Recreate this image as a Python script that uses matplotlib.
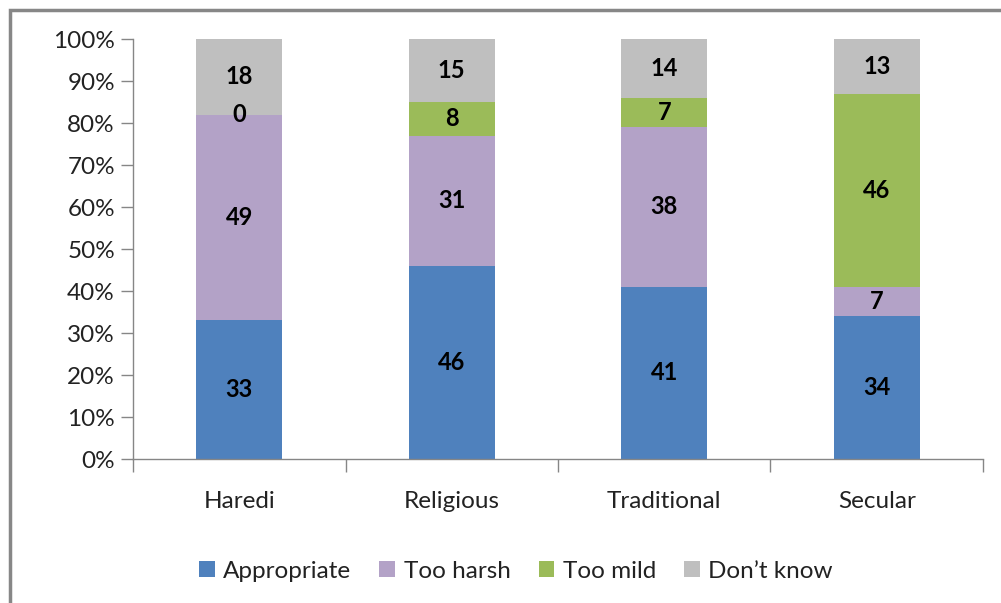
import matplotlib
matplotlib.use("Agg")
import matplotlib.pyplot as plt
from matplotlib.patches import Rectangle
import numpy as np

categories = ["Haredi", "Religious", "Traditional", "Secular"]
series_names = ["Appropriate", "Too harsh", "Too mild", "Don\u2019t know"]
appropriate = [33, 46, 41, 34]
too_harsh = [49, 31, 38, 7]
too_mild = [0, 8, 7, 46]
dont_know = [18, 15, 14, 13]
y_ticks = [0, 10, 20, 30, 40, 50, 60, 70, 80, 90, 100]

colors = ["#4F81BD", "#B3A2C7", "#9BBB59", "#BFBFBF"]

plt.rcParams['font.family'] = ['Lato', 'DejaVu Sans']

fig = plt.figure(figsize=(10.01, 6.03), dpi=100)
ax = fig.add_axes([133/1001, 1-459/603, (983-133)/1001, (459-39)/603])

x = np.arange(len(categories))
data = [appropriate, too_harsh, too_mild, dont_know]
bottom = np.zeros(len(categories))
handles = []
for vals, col, name in zip(data, colors, series_names):
    vals = np.array(vals, dtype=float)
    b = ax.bar(x, vals, 0.405, bottom=bottom, color=col, label=name, edgecolor='none')
    handles.append(b)
    for xi, v, bt in zip(x, vals, bottom):
        ax.text(xi, bt + v/2, f"{int(v)}", ha='center', va='center',
                fontsize=17, fontweight='bold', color='black')
    bottom += vals

ax.set_xlim(-0.5, len(categories) - 0.5)
ax.set_ylim(0, 100)
ax.set_yticks(y_ticks)
ax.set_yticklabels([f"{t}%" for t in y_ticks])
ax.set_xticks(x)
ax.set_xticklabels(categories)
ax.set_xticks(np.arange(len(categories) + 1) - 0.5, minor=True)
ax.tick_params(axis='x', which='major', length=0, pad=23, labelsize=17.5)
ax.tick_params(axis='x', which='minor', length=9, width=1, color='#868686')
ax.tick_params(axis='y', length=9, width=1, color='#868686', labelsize=17.5, pad=4)
for lbl in ax.get_yticklabels():
    lbl.set_color('#222222')
for lbl in ax.get_xticklabels():
    lbl.set_color('#222222')
for s in ['top', 'right']:
    ax.spines[s].set_visible(False)
for s in ['left', 'bottom']:
    ax.spines[s].set_color('#868686')
    ax.spines[s].set_linewidth(1)

leg = fig.legend(handles=handles, labels=series_names, loc='center',
                 bbox_to_anchor=(516/1001, 1-571/603), ncol=4, frameon=False,
                 fontsize=17.5, handlelength=0.65, handleheight=0.65,
                 handletextpad=0.35, columnspacing=1.15)
for t in leg.get_texts():
    t.set_color('#222222')

fig.patches.append(Rectangle((10/1001, -0.1), 1.2, 1 - 10/603 + 0.1,
                             transform=fig.transFigure, fill=False,
                             edgecolor='#878787', linewidth=2.5))

fig.savefig("out.png", dpi=100)
